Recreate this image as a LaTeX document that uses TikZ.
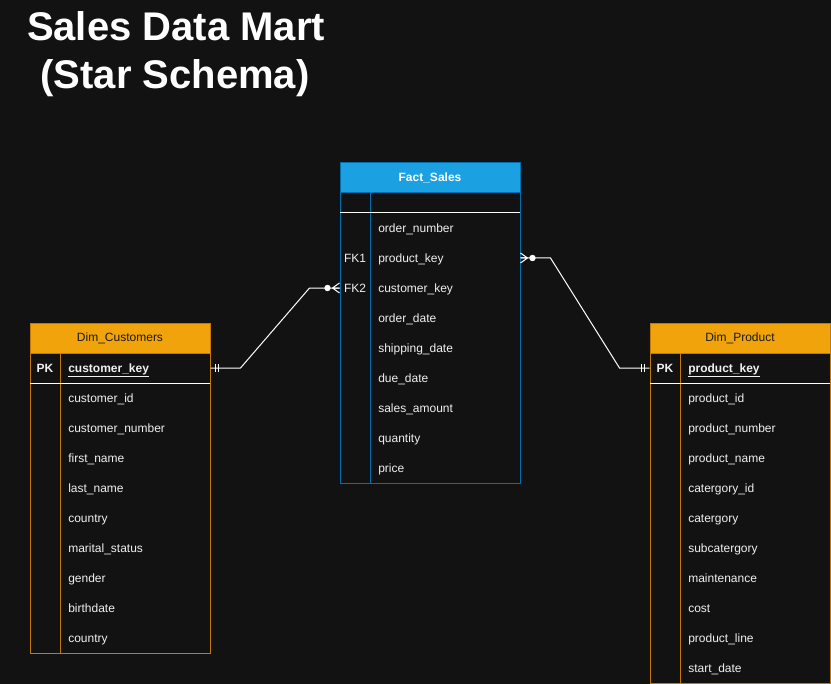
\documentclass[tikz,border=0pt]{standalone}
\usepackage{fontspec}
\setmainfont{Liberation Sans}
\usetikzlibrary{calc,positioning}

\definecolor{canvas}{HTML}{121212}
\definecolor{factblue}{HTML}{1BA1E2}
\definecolor{factline}{HTML}{006EAF}
\definecolor{dimorange}{HTML}{F0A30A}
\definecolor{dimline}{HTML}{C27A05}
\definecolor{fieldtxt}{HTML}{F0F0F0}
\definecolor{headtxt}{HTML}{1A1A1A}

\tikzset{
  head/.style={minimum width=135pt, minimum height=22.5pt, inner sep=0pt,
    line width=0.75pt, font=\fontsize{9}{10}\selectfont},
  field/.style={anchor=west, inner sep=0pt, text height=6.5pt, text depth=0pt,
    text=fieldtxt, font=\fontsize{9}{10}\selectfont},
  keylbl/.style={field, anchor=center},
  conn/.style={draw=white, line width=0.75pt},
  manyopt/.pic={
    \fill[white] (-12,0) circle (3.2);
    \draw[white, line width=0.75pt] (-7,0) -- (0,-5) (-7,0) -- (0,0) (-7,0) -- (0,5);
  },
  mandone/.pic={
    \draw[white, line width=0.75pt] (-5,-4) -- (-5,4) (-8,-4) -- (-8,4);
  }
}

\begin{document}
\begin{tikzpicture}[x=0.75pt, y=-0.75pt]
  \fill[canvas] (0,0) rectangle (831,684);
  \useasboundingbox (0,0) rectangle (831,684);

  % title
  \node[anchor=base, text=white, font=\fontsize{30}{36}\selectfont\bfseries] (title1) at (176,41) {Sales Data Mart};
  \node[anchor=base, text=white, font=\fontsize{30}{36}\selectfont\bfseries] (title2) at (175,89) {(Star Schema)};

  % Fact_Sales
  \draw[factline, line width=0.75pt] (340,193) rectangle (520,483);
  \draw[factline, line width=0.75pt] (370,193) -- (370,483);
  \draw[white, line width=0.75pt] (340,213) -- (520,213);
  \node[head, fill=factblue, draw=factline, text=white, font=\fontsize{9}{10}\selectfont\bfseries] (fs) at (430,178) {Fact\_Sales};
  \foreach \nm/\lbl [count=\i from 0] in {order/order\_number, prod/product\_key, cust/customer\_key,
      odate/order\_date, sdate/shipping\_date, ddate/due\_date, amount/sales\_amount,
      qty/quantity, price/price}
    \node[field] (fs-\nm) at (378,228+30*\i) {\lbl};
  \node[keylbl] (fs-fk1) at (355,258) {FK1};
  \node[keylbl] (fs-fk2) at (355,288) {FK2};

  % Dim_Customers
  \draw[dimline, line width=0.75pt] (30,353) rectangle (210,653);
  \draw[dimline, line width=0.75pt] (60,353) -- (60,653);
  \draw[white, line width=0.75pt] (30,383) -- (210,383);
  \node[head, fill=dimorange, draw=dimline, text=headtxt] (cu) at (120,338) {Dim\_Customers};
  \node[keylbl, font=\fontsize{9}{10}\selectfont\bfseries] (cu-pk) at (45,368) {PK};
  \node[field, font=\fontsize{9}{10}\selectfont\bfseries] (cu-key) at (68,368) {\underline{customer\_key}};
  \foreach \nm/\lbl [count=\i from 0] in {id/customer\_id, num/customer\_number, first/first\_name,
      last/last\_name, country/country, marital/marital\_status, gender/gender,
      birth/birthdate, country2/country}
    \node[field] (cu-\nm) at (68,398+30*\i) {\lbl};

  % Dim_Product
  \draw[dimline, line width=0.75pt] (650,353) rectangle (830,683);
  \draw[dimline, line width=0.75pt] (680,353) -- (680,683);
  \draw[white, line width=0.75pt] (650,383) -- (830,383);
  \node[head, fill=dimorange, draw=dimline, text=headtxt] (pr) at (740,338) {Dim\_Product};
  \node[keylbl, font=\fontsize{9}{10}\selectfont\bfseries] (pr-pk) at (665,368) {PK};
  \node[field, font=\fontsize{9}{10}\selectfont\bfseries] (pr-key) at (688,368) {\underline{product\_key}};
  \foreach \nm/\lbl [count=\i from 0] in {id/product\_id, num/product\_number, name/product\_name,
      catid/catergory\_id, cat/catergory, subcat/subcatergory, maint/maintenance,
      cost/cost, line/product\_line, start/start\_date}
    \node[field] (pr-\nm) at (688,398+30*\i) {\lbl};

  % relationships
  \coordinate (cu-end) at (cu-key -| cu.east);
  \coordinate (fs-cend) at (fs-cust -| fs.west);
  \draw[conn] (cu-end) -- ++(30,0) -- ($(fs-cend)+(-30,0)$) -- (fs-cend);
  \pic[xscale=-1] at (cu-end) {mandone};
  \pic at (fs-cend) {manyopt};

  \coordinate (pr-end) at (pr-key -| pr.west);
  \coordinate (fs-pend) at (fs-prod -| fs.east);
  \draw[conn] (fs-pend) -- ++(30,0) -- ($(pr-end)+(-30,0)$) -- (pr-end);
  \pic[xscale=-1] at (fs-pend) {manyopt};
  \pic at (pr-end) {mandone};
\end{tikzpicture}
\end{document}
